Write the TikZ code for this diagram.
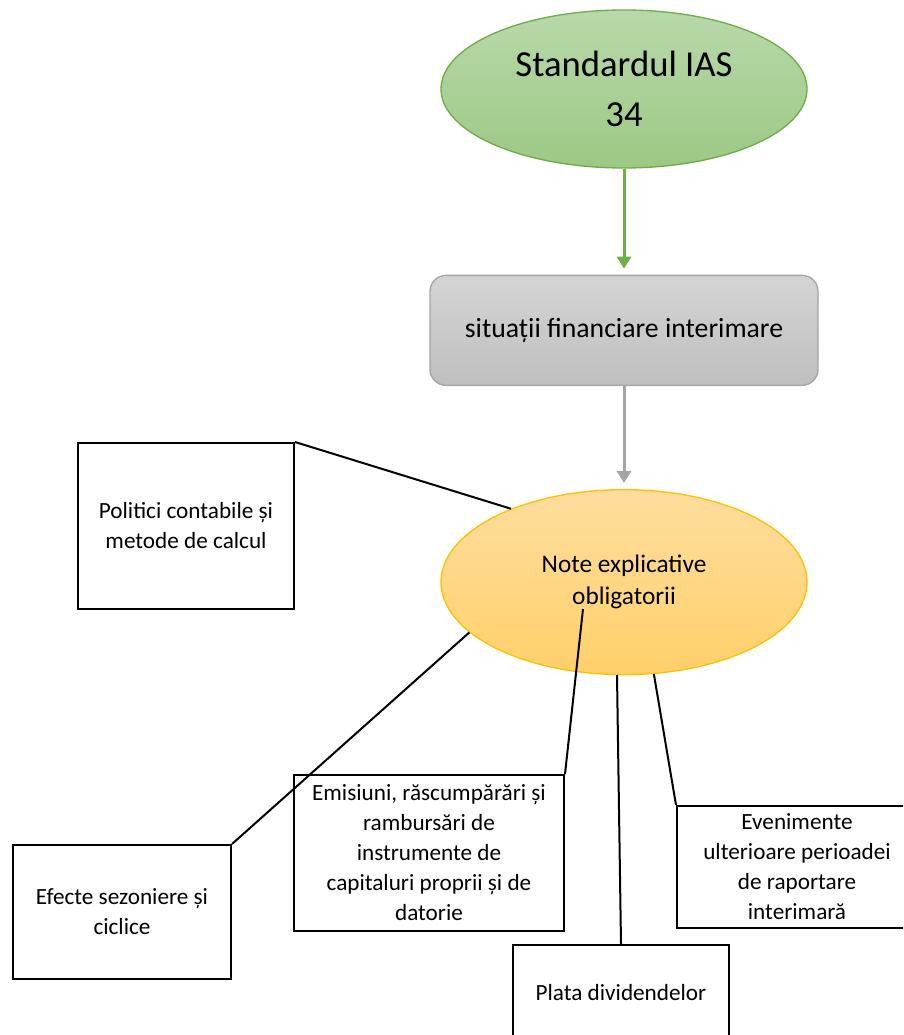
\documentclass[tikz,border=0pt]{standalone}
\usepackage{fontspec}
\setmainfont{Carlito}
\usepackage{xcolor}
\usetikzlibrary{arrows.meta, positioning, shapes.geometric}

\definecolor{stdline}{HTML}{70AD47}
\definecolor{stdtop}{HTML}{B8D9AA}
\definecolor{stdbot}{HTML}{9CC884}
\definecolor{sitline}{HTML}{A5A5A5}
\definecolor{sittop}{HTML}{D4D4D4}
\definecolor{sitbot}{HTML}{BFBFBF}
\definecolor{noteline}{HTML}{FFC000}
\definecolor{notetop}{HTML}{FFDD9E}
\definecolor{notebot}{HTML}{FFD06A}

\begin{document}
\begin{tikzpicture}[
  x=0.75pt, y=-0.75pt,
  oval/.style={ellipse, minimum width=274.5pt, inner sep=0pt,
               align=center, line width=1pt},
  stdnode/.style={oval, minimum height=118.5pt, draw=stdline,
                  top color=stdtop, bottom color=stdbot,
                  font=\fontsize{27.5}{37.5}\selectfont},
  sitnode/.style={rectangle, rounded corners=12pt, minimum width=291pt,
                  minimum height=82.5pt, draw=sitline, line width=1pt,
                  top color=sittop, bottom color=sitbot,
                  font=\fontsize{20.8}{25}\selectfont},
  notenode/.style={oval, minimum height=138.75pt, draw=noteline,
                   top color=notetop, bottom color=notebot,
                   font=\fontsize{19}{24}\selectfont},
  itembox/.style={draw, line width=1.5pt, align=center, inner sep=0pt,
                  font=\fontsize{17.4}{22.5}\selectfont},
  arr/.style={-{Triangle[width=10.5pt, length=9pt]}, line width=2.25pt,
              shorten >=4.5pt},
  link/.style={line width=1.5pt},
]
\useasboundingbox (0,0) rectangle (903,1035);
\clip (0,0) rectangle (903,1035);

% Main chain
\node[stdnode] (std) at (624,89) {Standardul IAS\\34};
\node[sitnode, below=79.5pt of std] (sit) {situații financiare interimare};
\node[notenode, below=77.25pt of sit] (note) {Note explicative\\obligatorii};

\draw[arr, draw=stdline] (std) -- (sit);
\draw[arr, draw=sitline] (sit) -- (note);

% Explanatory notes
\node[itembox, minimum width=162pt, minimum height=124.5pt] (polit) at (186,526)
  {Politici contabile și\\metode de calcul};
\node[itembox, minimum width=163.5pt, minimum height=100.5pt] (efect) at (122,912)
  {Efecte sezoniere și\\ciclice};
\node[itembox, minimum width=202.5pt, minimum height=117pt] (emis) at (429,853)
  {Emisiuni, răscumpărări și\\rambursări de\\instrumente de\\capitaluri proprii și de\\datorie};
\node[itembox, minimum width=162pt, minimum height=72pt] (plata) at (621,993)
  {Plata dividendelor};
\node[itembox, minimum width=180pt, minimum height=91.5pt] (even) at (797,867)
  {Evenimente\\ulterioare perioadei\\de raportare\\interimară};

\coordinate (noteIn) at (583,609);
\coordinate (noteOut) at (617,675);

\draw[link] (polit.north east) -- (note.147);
\draw[link] (note.198.5) -- (efect.north east);
\draw[link] (noteIn) -- (emis.north east);
\draw[link] (noteOut) -- (plata.north);
\draw[link] (note.288.6) -- (even.north west);
\end{tikzpicture}
\end{document}
